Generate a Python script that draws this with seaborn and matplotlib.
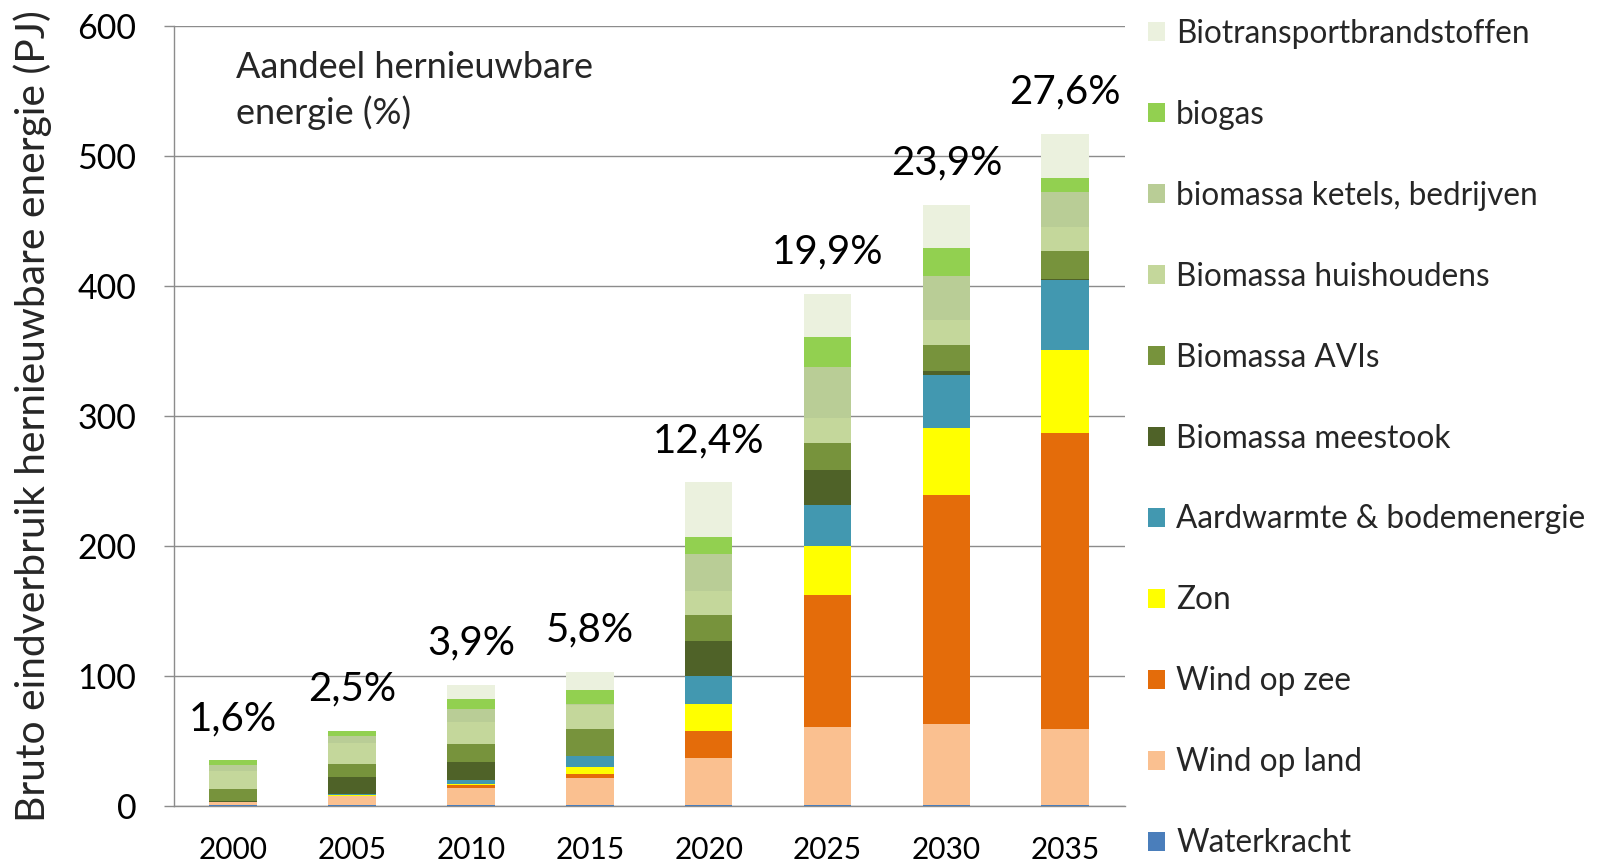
import matplotlib
matplotlib.use("Agg")
import matplotlib.pyplot as plt
import matplotlib.patches as mpatches
import seaborn as sns
import pandas as pd
import numpy as np

years = ["2000", "2005", "2010", "2015", "2020", "2025", "2030", "2035"]
share_labels = ["1,6%", "2,5%", "3,9%", "5,8%", "12,4%", "19,9%", "23,9%", "27,6%"]

# series, bottom to top of the stack
waterkracht = [0.3, 0.3, 0.3, 0.3, 0.3, 0.3, 0.3, 0.3]
wind_land = [2.3, 7.0, 13.1, 20.6, 36.2, 59.8, 62.4, 58.8]
wind_zee = [0.0, 0.0, 2.6, 3.6, 20.8, 101.7, 176.0, 227.9]
zon = [0.1, 1.0, 1.0, 5.4, 20.8, 38.0, 52.0, 63.8]
aardwarmte = [0.2, 0.3, 2.8, 8.2, 21.8, 31.6, 40.5, 53.3]
meestook = [1.0, 13.4, 13.7, 0.3, 27.0, 27.0, 3.1, 1.1]
avi = [9.0, 10.0, 13.7, 20.6, 19.8, 20.7, 20.3, 21.3]
huishoudens = [14.0, 16.0, 17.0, 18.5, 18.7, 18.7, 18.9, 18.7]
ketels = [4.0, 5.4, 10.0, 0.5, 28.2, 39.8, 34.1, 27.1]
biogas = [3.9, 3.9, 8.0, 10.8, 13.4, 22.8, 21.2, 10.8]
biotransport = [0.0, 0.0, 10.3, 13.7, 41.6, 33.3, 33.0, 33.4]

series_names = ["Waterkracht", "Wind op land", "Wind op zee", "Zon",
                "Aardwarmte & bodemenergie", "Biomassa meestook", "Biomassa AVIs",
                "Biomassa huishoudens", "biomassa ketels, bedrijven", "biogas",
                "Biotransportbrandstoffen"]
series_values = [waterkracht, wind_land, wind_zee, zon, aardwarmte, meestook, avi,
                 huishoudens, ketels, biogas, biotransport]
series_colors = ["#4a7ebb", "#fac090", "#e46c0a", "#ffff00", "#4298b0", "#4f6228",
                 "#77933c", "#c4d79b", "#b9cd96", "#92d050", "#ebf1de"]

sns.set_theme(style="white")
plt.rcParams["font.family"] = ["Lato", "DejaVu Sans"]

fig = plt.figure(figsize=(16.03, 8.63), dpi=100)
ax = fig.add_axes([0.1084, 0.0665, 0.5932, 0.9038])

cum = np.cumsum(np.array(series_values), axis=0)
for i in range(len(series_names) - 1, -1, -1):
    df = pd.DataFrame({"jaar": years, "waarde": cum[i]})
    sns.barplot(data=df, x="jaar", y="waarde", order=years, color=series_colors[i],
                saturation=1, width=0.40, ax=ax, linewidth=0, zorder=3)

totals = cum[-1]
for i, (lab, tot) in enumerate(zip(share_labels, totals)):
    ax.text(i, tot + 18, lab, ha="center", va="bottom", fontsize=29, color="black",
            zorder=5)

ax.set_ylim(0, 600)
ax.set_xlim(-0.5, len(years) - 0.5)
ax.set_yticks(np.arange(0, 601, 100))
ax.yaxis.grid(True, color="#8c8c8c", linewidth=1.0, zorder=0)
ax.xaxis.grid(False)
ax.set_axisbelow(True)
for s in ["top", "right"]:
    ax.spines[s].set_visible(False)
for s in ["left", "bottom"]:
    ax.spines[s].set_color("#8c8c8c")
    ax.spines[s].set_linewidth(1.0)

ax.set_xticks(range(len(years)))
ax.set_xticklabels(years)
ax.set_xticks(np.arange(-0.5, len(years), 1.0), minor=True)
ax.tick_params(axis="x", which="major", length=0, labelsize=21.5, pad=22, colors="black")
ax.tick_params(axis="x", which="minor", length=8, width=1, color="#8c8c8c", direction="out")
ax.tick_params(axis="y", which="major", length=7, width=1, color="#8c8c8c",
               direction="out", labelsize=24.5, pad=20, labelcolor="black", left=True)
ax.set_xlabel("")
ax.set_ylabel("Bruto eindverbruik hernieuwbare energie (PJ)", fontsize=29.3)
ax.yaxis.set_label_coords(-0.128, 0.5)

ax.text(0.065, 0.967, "Aandeel hernieuwbare\nenergie (%)", transform=ax.transAxes,
        ha="left", va="top", fontsize=26, linespacing=1.4)

handles = [mpatches.Patch(facecolor=c, edgecolor="none") for c in series_colors[::-1]]
leg = fig.legend(handles, series_names[::-1], loc="upper left",
                 bbox_to_anchor=(0.716, 0.978), frameon=False, fontsize=22.7,
                 handlelength=0.55, handleheight=0.55, handletextpad=0.35,
                 labelspacing=1.615, borderaxespad=0, borderpad=0)

fig.savefig("out.png", dpi=100)
